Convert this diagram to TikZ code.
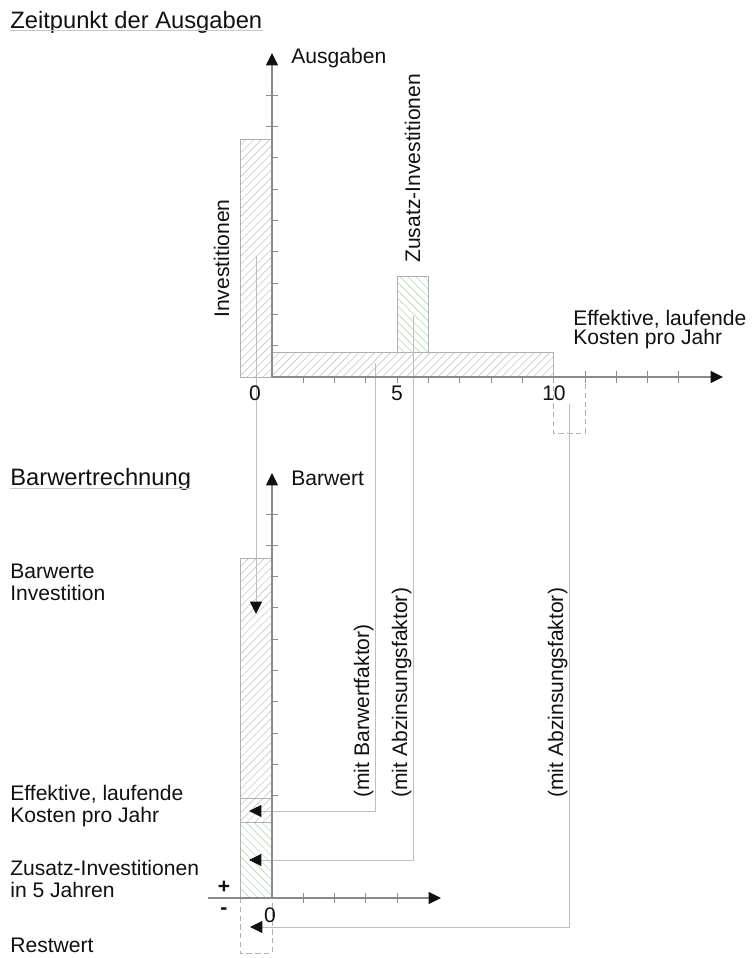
\documentclass[tikz,border=0pt]{standalone}
\usepackage{fontspec}
\setmainfont{Liberation Sans}
\usetikzlibrary{arrows.meta,patterns.meta}
\definecolor{ink}{HTML}{111111}
\definecolor{axisg}{HTML}{8A8A8A}
\definecolor{edge}{HTML}{B0B0B0}
\definecolor{lead}{HTML}{BEBEBE}
\definecolor{hatchg}{HTML}{C6C6C6}
\definecolor{hatchgr}{HTML}{B2DABD}
\definecolor{rulec}{HTML}{C8C8C8}
\begin{document}
\begin{tikzpicture}[x=0.02cm,y=-0.02cm,
  axisline/.style={axisg,line width=0.6pt},
  tickmark/.style={axisg,line width=0.5pt},
  leader/.style={lead,line width=0.5pt},
  tip/.style={-{Triangle[length=7pt,width=6.8pt,color=ink]}},
  lbl/.style={font=\fontsize{12pt}{14pt}\selectfont,inner sep=0pt,anchor=base west,text=ink},
  ttl/.style={font=\fontsize{13.5pt}{16pt}\selectfont,inner sep=0pt,anchor=base west,text=ink},
  barhatch/.style={draw=edge,line width=0.5pt,preaction={fill=white},pattern={Lines[angle=45,distance=3.2pt,line width=0.35pt]},pattern color=hatchg},
  bargreen/.style={draw=edge,line width=0.5pt,preaction={fill=white},pattern={Lines[angle=-45,distance=3.2pt,line width=0.35pt]},pattern color=hatchgr},
  restbox/.style={edge,line width=0.5pt,dash pattern=on 3pt off 2pt}]
  \useasboundingbox (0,0) rectangle (753,958);
  % titles
  \node[ttl] (tZeit) at (10,28) {Zeitpunkt der Ausgaben};
  \draw[rulec,line width=0.5pt] ([yshift=-1.5pt]tZeit.base west) -- ([yshift=-1.5pt]tZeit.base east);
  \node[ttl] (tBarw) at (10,485) {Barwertrechnung};
  \draw[rulec,line width=0.5pt] ([yshift=-2.2pt]tBarw.base west) -- ([yshift=-2.2pt]tBarw.base east);
  % ticks
  \foreach \k in {1,...,9}
    \draw[tickmark] (266,{377-31.3*\k}) -- (278,{377-31.3*\k});
  \foreach \k in {1,...,13}
    \draw[tickmark] ({272+31.3*\k},371) -- ({272+31.3*\k},383);
  \foreach \k in {0,...,9}
    \draw[tickmark] (266,{514+31.3*\k}) -- (278,{514+31.3*\k});
  \foreach \k in {1,...,4}
    \draw[tickmark] ({272+31.3*\k},893) -- ({272+31.3*\k},903);
  % expenses over time
  \draw[barhatch] (240,139) rectangle (272,377);
  \draw[barhatch] (272,352) rectangle (553,377);
  \draw[bargreen] (397,276) rectangle (428,352);
  \draw[restbox] (553,377) rectangle (585,433);
  % present values
  \draw[barhatch] (240,558) rectangle (272,798);
  \draw[barhatch] (240,798) rectangle (272,822);
  \draw[bargreen] (240,822) rectangle (272,898);
  \draw[restbox] (240,898) rectangle (272,953);
  % leaders
  \coordinate (invS) at (256,256); \coordinate (invE) at (256,614);
  \coordinate (kosS) at (375,363); \coordinate (kosE) at (249,811);
  \coordinate (zusS) at (413,316); \coordinate (zusE) at (249,860);
  \coordinate (resS) at (569,404); \coordinate (resE) at (250,927);
  \draw[leader,tip] (invS) -- (invE);
  \draw[leader,tip] (kosS) |- (kosE);
  \draw[leader,tip] (zusS) |- (zusE);
  \draw[leader,tip] (resS) |- (resE);
  % axes
  \coordinate (oT) at (272,377); \coordinate (yT) at (272,53); \coordinate (xT) at (723,377);
  \coordinate (oB) at (272,898); \coordinate (yB) at (272,473);
  \coordinate (xB0) at (208,898); \coordinate (xB) at (441,898);
  \draw[axisline,tip] (oT) -- (yT);
  \draw[axisline,tip] (oT) -- (xT);
  \draw[axisline,tip] (oB) -- (yB);
  \draw[axisline,tip] (xB0) -- (xB);
  % labels
  \node[lbl] (lAus) at (291,63) {Ausgaben};
  \node[lbl] (lBar) at (291,485) {Barwert};
  \node[lbl] (lEffT1) at (573,325) {Effektive, laufende};
  \node[lbl] (lEffT2) at (573,344) {Kosten pro Jahr};
  \node[lbl,rotate=90] (lInv) at (229,318) {Investitionen};
  \node[lbl,rotate=90] (lZus) at (420,263) {Zusatz-Investitionen};
  \node[lbl,rotate=90] (lMitB) at (369,798) {(mit Barwertfaktor)};
  \node[lbl,rotate=90] (lMitA) at (407,798) {(mit Abzinsungsfaktor)};
  \node[lbl,rotate=90] (lMitR) at (563,798) {(mit Abzinsungsfaktor)};
  \node[lbl,anchor=base] (n0) at (255,400) {0};
  \node[lbl,anchor=base] (n5) at (397,400) {5};
  \node[lbl,anchor=base] (n10) at (554,400) {10};
  \node[lbl,anchor=base] (m0) at (270,922) {0};
  \node[lbl,anchor=center] (lPlus) at (224,887) {\textbf{+}};
  \node[lbl,anchor=center] (lMinus) at (224,911) {\textbf{-}};
  \node[lbl] (lBI1) at (10,578) {Barwerte};
  \node[lbl] (lBI2) at (10,600) {Investition};
  \node[lbl] (lBK1) at (10,800) {Effektive, laufende};
  \node[lbl] (lBK2) at (10,822) {Kosten pro Jahr};
  \node[lbl] (lBZ1) at (10,875) {Zusatz-Investitionen};
  \node[lbl] (lBZ2) at (10,897) {in 5 Jahren};
  \node[lbl] (lBR) at (10,952) {Restwert};
\end{tikzpicture}
\end{document}
